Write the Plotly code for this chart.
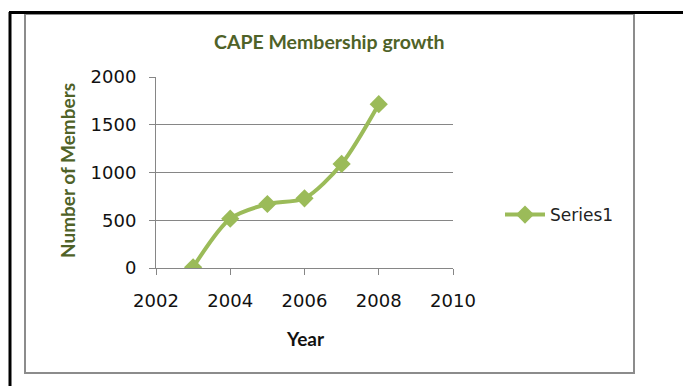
import plotly.graph_objects as go

years = [2003, 2004, 2005, 2006, 2007, 2008]
members = [8, 517, 670, 730, 1090, 1715]
series_name = "Series1"
title_text = "CAPE Membership growth"
x_title = "Year"
y_title = "Number of Members"
x_ticks = [2002, 2004, 2006, 2008, 2010]
y_ticks = [0, 500, 1000, 1500, 2000]

W, H = 683, 386
L, R, T, B = 156, 453, 77, 268  # plot area pixel box


def px(x):
    return (x - L) / (R - L)


def py(y):
    return (B - y) / (B - T)


green = "#9BBB59"
olive = "#4F6228"
grid = "#868686"

fig = go.Figure()
fig.add_trace(go.Scatter(
    x=years, y=members, name=series_name, mode="lines+markers",
    line=dict(color=green, width=4, shape="spline", smoothing=0.8),
    marker=dict(symbol="diamond", size=14, color=green),
))

fig.update_layout(
    width=W, height=H,
    margin=dict(l=L, r=W - R, t=T, b=H - B),
    paper_bgcolor="white", plot_bgcolor="white",
    showlegend=True,
    legend=dict(x=px(500), y=py(215), xanchor="left", yanchor="middle",
                font=dict(family="DejaVu Sans", size=17, color="#222"),
                bgcolor="rgba(0,0,0,0)", itemwidth=40),
    annotations=[
        dict(text="<b>" + title_text + "</b>", x=px(329), y=py(42), xref="paper", yref="paper",
             xanchor="center", yanchor="middle",
             showarrow=False, font=dict(family="Lato", size=19.5, color=olive)),
        dict(text="<b>" + x_title + "</b>", x=px(305), y=py(338), xref="paper", yref="paper",
             xanchor="center", yanchor="middle",
             showarrow=False, font=dict(family="Lato", size=19, color="#111")),
        dict(text="<b>" + y_title + "</b>", x=px(67), y=py(171), xref="paper", yref="paper",
             xanchor="center", yanchor="middle",
             showarrow=False, textangle=-90, font=dict(family="Lato", size=19, color=olive)),
    ],
    shapes=[
        dict(type="rect", xref="paper", yref="paper", x0=px(25), x1=px(634), y0=py(373), y1=py(14),
             line=dict(color="#8c8c8c", width=2), fillcolor="rgba(0,0,0,0)", layer="below"),
        dict(type="line", xref="paper", yref="paper", x0=px(9), x1=px(690), y0=py(12.5), y1=py(12.5),
             line=dict(color="black", width=3)),
        dict(type="line", xref="paper", yref="paper", x0=px(10), x1=px(10), y0=py(12), y1=py(400),
             line=dict(color="black", width=3)),
    ],
)

fig.update_xaxes(range=[2002, 2010], tickvals=x_ticks, ticks="outside", ticklen=6,
                 tickcolor=grid, showline=True, linecolor=grid, linewidth=1,
                 showgrid=False, zeroline=False, ticklabelstandoff=10,
                 tickfont=dict(family="DejaVu Sans", size=18, color="#111"))
fig.update_yaxes(range=[0, 2000], tickvals=y_ticks, ticks="outside", ticklen=6,
                 tickcolor=grid, showline=True, linecolor=grid, linewidth=1,
                 showgrid=True, gridcolor=grid, gridwidth=1, zeroline=False,
                 ticklabelstandoff=9,
                 tickfont=dict(family="DejaVu Sans", size=18, color="#111"))

fig.write_html("out.html")
